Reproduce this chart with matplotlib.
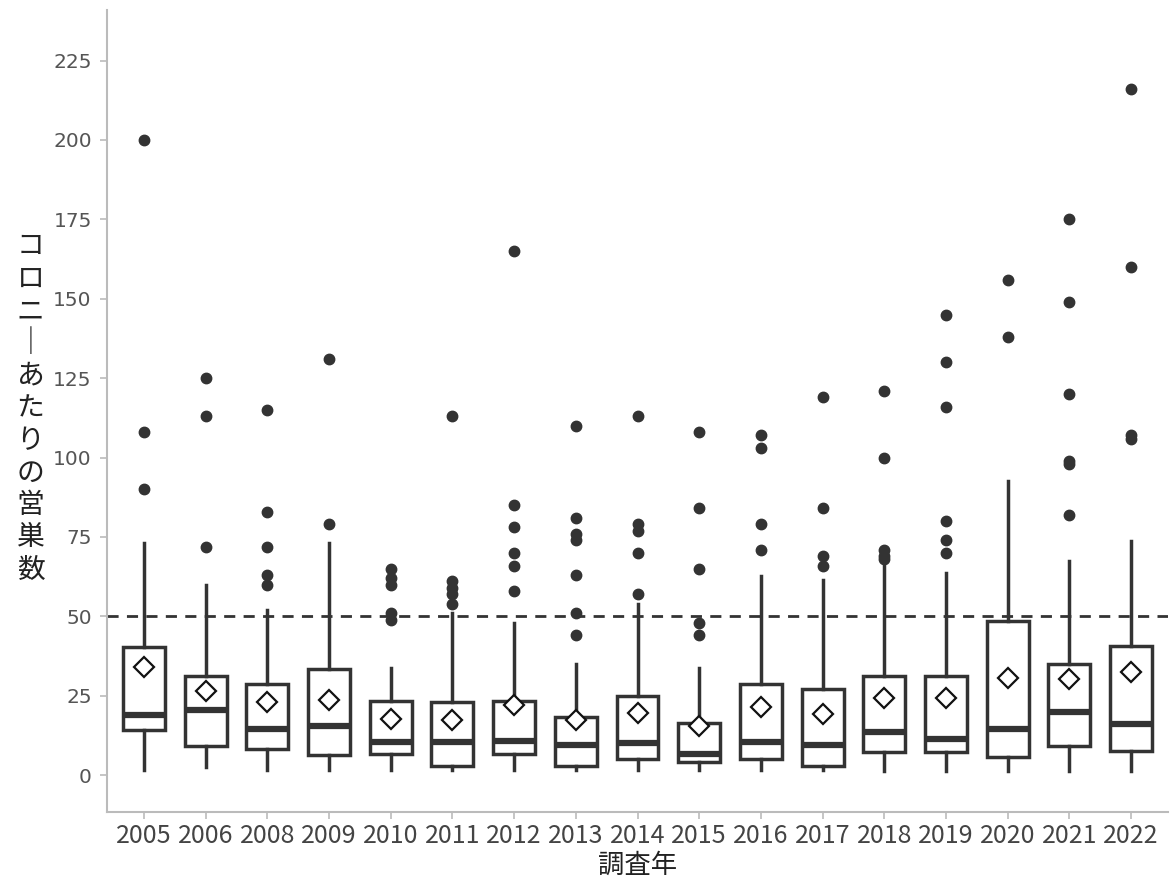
import matplotlib
matplotlib.use("Agg")
import matplotlib.pyplot as plt

plt.rcParams['font.family'] = ['Noto Sans CJK JP', 'DejaVu Sans']

# survey years and box statistics
years = ["2005", "2006", "2008", "2009", "2010", "2011", "2012", "2013", "2014",
         "2015", "2016", "2017", "2018", "2019", "2020", "2021", "2022"]
whislo = [1.5, 2.5, 1.5, 1.5, 1.5, 1.5, 1.5, 1.5, 1.5, 1.5, 1.5, 1.5, 1.3, 1.3, 1.3, 1.3, 1.3]
q1 = [14.3, 9.1, 8.1, 6.3, 6.7, 2.8, 6.7, 2.8, 5.2, 4.2, 5.2, 2.8, 7.4, 7.4, 5.8, 9.2, 7.7]
med = [19, 20.4, 14.5, 15.4, 10.5, 10.5, 10.8, 9.5, 10, 6.6, 10.5, 9.5, 13.7, 11.4, 14.4, 20, 16.2]
q3 = [40.3, 31.3, 28.8, 33.4, 23.4, 23.1, 23.4, 18.2, 25, 16.4, 28.7, 27, 31.2, 31.2, 48.5, 34.9, 40.8]
whishi = [73, 60, 52, 73, 33.9, 51, 47.9, 35, 54, 33.9, 62.6, 61.6, 66, 63.7, 92.6, 67.5, 73.8]
means = [34, 26.4, 23.2, 23.6, 17.8, 17.5, 22, 17.5, 19.6, 15.4, 21.4, 19.3, 24.3, 24.3, 30.7, 30.4, 32.5]
fliers = [
    [200, 108, 90],
    [125, 113, 72],
    [115, 83, 72, 63, 60],
    [131, 79],
    [65, 62, 60, 51, 49],
    [113, 61, 59, 57, 54],
    [165, 85, 78, 70, 66, 58],
    [110, 81, 76, 74, 63, 51, 44],
    [113, 79, 77, 70, 57],
    [108, 84, 65, 48, 44],
    [107, 103, 79, 71],
    [119, 84, 69, 66],
    [121, 100, 71, 69, 68],
    [145, 130, 116, 80, 74, 70],
    [156, 138],
    [175, 149, 120, 99, 98, 82],
    [216, 160, 107, 106],
]
threshold = 50
xlabel = "調査年"
ylabel = "コロニーあたりの営巣数"

stats = []
for i in range(len(years)):
    stats.append({"label": years[i], "whislo": whislo[i], "q1": q1[i], "med": med[i],
                  "q3": q3[i], "whishi": whishi[i], "mean": means[i], "fliers": fliers[i]})

fig = plt.figure(figsize=(11.72, 8.83), dpi=100)
ax = fig.add_axes([0.0913, 0.080, 0.9053, 0.909])

dark = "#333333"
ax.axhline(threshold, color=dark, lw=2, ls=(0, (4, 3)), zorder=1)

ax.bxp(stats, positions=range(len(years)), widths=0.68, showmeans=True, showcaps=False,
       patch_artist=True,
       boxprops=dict(facecolor="white", edgecolor=dark, linewidth=2.5),
       whiskerprops=dict(color=dark, linewidth=2.5),
       medianprops=dict(color=dark, linewidth=4.5),
       meanprops=dict(marker="D", markerfacecolor="white", markeredgecolor="#111111",
                      markeredgewidth=1.6, markersize=10.5),
       flierprops=dict(marker="o", markerfacecolor=dark, markeredgecolor=dark, markersize=7.5),
       zorder=2)

ax.set_xlim(-0.6, len(years) - 0.4)
ax.set_ylim(-11.7, 241)
ax.set_yticks([0, 25, 50, 75, 100, 125, 150, 175, 200, 225])

for s in ["top", "right"]:
    ax.spines[s].set_visible(False)
for s in ["left", "bottom"]:
    ax.spines[s].set_color("#bbbbbb")
    ax.spines[s].set_linewidth(1.5)

ax.tick_params(axis="both", colors="#bbbbbb", length=5, width=1.2)
ax.tick_params(axis="x", labelcolor="#444444", labelsize=18, pad=3)
ax.tick_params(axis="y", labelcolor="#555555", labelsize=14.5, pad=6,
               labelfontfamily="DejaVu Sans")

ax.set_xlabel(xlabel, fontsize=19, color="#222222", labelpad=2)
fig.text(0.026, 0.538, "\n".join(ylabel.replace("ー", "｜")), fontsize=20, color="#222222",
         ha="center", va="center", linespacing=1.1)

fig.savefig("out.png", dpi=100, facecolor="white")
